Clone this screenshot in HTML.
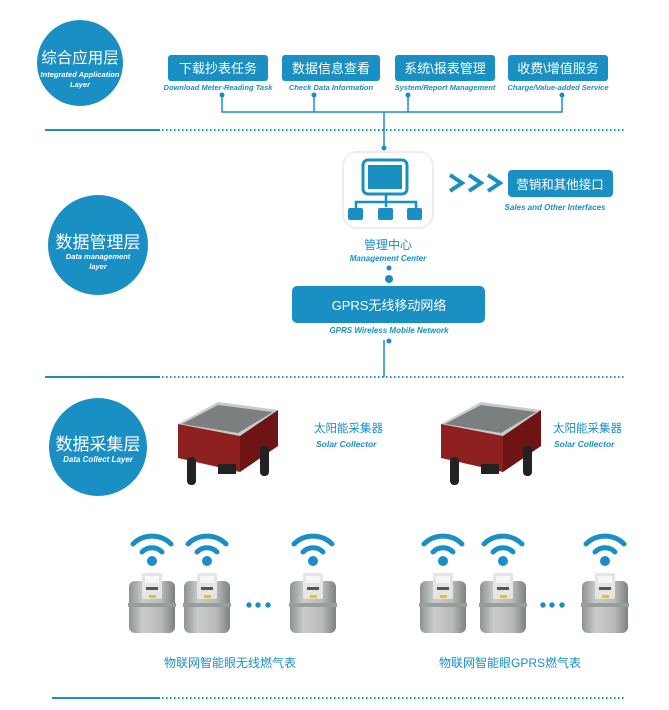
<!DOCTYPE html>
<html><head><meta charset="utf-8"><style>
html,body{margin:0;padding:0;background:#fff;}
svg{display:block;}
.cn{font-family:"Liberation Sans","Noto Sans CJK SC",sans-serif;}
.it{font-family:"Liberation Sans",sans-serif;font-style:italic;font-weight:bold;}
</style></head><body>
<svg width="669" height="710" viewBox="0 0 669 710" xmlns="http://www.w3.org/2000/svg">
<defs>
<linearGradient id="mg" x1="0" x2="1" y1="0" y2="0">
<stop offset="0" stop-color="#8e9390"/><stop offset="0.3" stop-color="#c9ccc9"/><stop offset="0.7" stop-color="#b8bbb8"/><stop offset="1" stop-color="#7d817f"/></linearGradient>
<g id="wifi">
<path d="M-19,-6 A27,27 0 0 1 19,-6" fill="none" stroke="#1a8fc4" stroke-width="5" stroke-linecap="round"/>
<path d="M-10,2 A14,14 0 0 1 10,2" fill="none" stroke="#1a8fc4" stroke-width="5" stroke-linecap="round"/>
<circle cx="0" cy="11" r="5" fill="#1a8fc4"/>
</g>
<g id="meter">
<rect x="-23" y="8" width="46" height="52" rx="6" fill="url(#mg)"/>
<rect x="-24" y="30" width="48" height="4" fill="#9a9e9b"/>
<rect x="-10" y="0" width="20" height="26" rx="2" fill="#e4e6e4"/>
<rect x="-7" y="3" width="14" height="7" fill="#f6f6f6"/>
<rect x="-6" y="14" width="12" height="3" fill="#555"/>
<rect x="-3" y="22" width="7" height="3" fill="#e8c020"/>
</g>
<g id="solar">
<polygon points="0,22 40,0 100,8 62,34" fill="#c9cbc9"/>
<polygon points="4,22 40,3 95,10 60,31" fill="#7b7f80"/>
<polygon points="0,22 62,34 62,70 0,56" fill="#8e2020"/>
<polygon points="62,34 100,8 100,44 62,70" fill="#6e1414"/>
<rect x="40" y="62" width="18" height="10" fill="#222"/>
<rect x="9" y="55" width="9" height="28" rx="4" fill="#222"/>
<rect x="82" y="44" width="9" height="30" rx="4" fill="#222"/>
</g>
</defs>

<g stroke="#1a8fc4">
<line x1="45" y1="130" x2="160" y2="130" stroke-width="2"/>
<line x1="162" y1="130" x2="626" y2="130" stroke-width="2" stroke-dasharray="1.5,2.5"/>
<line x1="45" y1="377" x2="160" y2="377" stroke-width="2"/>
<line x1="162" y1="377" x2="626" y2="377" stroke-width="2" stroke-dasharray="1.5,2.5"/>
<line x1="52" y1="698" x2="160" y2="698" stroke-width="2"/>
<line x1="162" y1="698" x2="626" y2="698" stroke-width="2" stroke-dasharray="1.5,2.5"/>
</g>

<circle cx="80" cy="63" r="43" fill="#1a8fc4"/>
<text x="80" y="63" class="cn" fill="#fff" font-size="15.5" text-anchor="middle">综合应用层</text>
<text x="80" y="77" class="it" fill="#fff" font-size="7.5" text-anchor="middle">Integrated Application</text>
<text x="80" y="87" class="it" fill="#fff" font-size="7.5" text-anchor="middle">Layer</text>

<circle cx="98" cy="245" r="50" fill="#1a8fc4"/>
<text x="98" y="248" class="cn" fill="#fff" font-size="17" text-anchor="middle">数据管理层</text>
<text x="98" y="259" class="it" fill="#fff" font-size="7.5" text-anchor="middle">Data management</text>
<text x="98" y="269" class="it" fill="#fff" font-size="7.5" text-anchor="middle">layer</text>

<circle cx="98" cy="447" r="49" fill="#1a8fc4"/>
<text x="98" y="450" class="cn" fill="#fff" font-size="17" text-anchor="middle">数据采集层</text>
<text x="98" y="462" class="it" fill="#fff" font-size="8" text-anchor="middle">Data Collect Layer</text>

<g fill="#1a8fc4">
<rect x="168" y="55" width="100" height="26" rx="3"/>
<rect x="282" y="55" width="98" height="26" rx="3"/>
<rect x="395" y="55" width="100" height="26" rx="3"/>
<rect x="508" y="55" width="100" height="26" rx="3"/>
</g>
<g class="cn" fill="#fff" font-size="13" text-anchor="middle">
<text x="218" y="73">下载抄表任务</text>
<text x="331" y="73">数据信息查看</text>
<text x="445" y="73">系统\报表管理</text>
<text x="558" y="73">收费\增值服务</text>
</g>
<g class="it" fill="#1a8fc4" font-size="7.5" text-anchor="middle">
<text x="218" y="90">Download Meter-Reading Task</text>
<text x="331" y="90">Check Data Information</text>
<text x="445" y="90">System/Report Management</text>
<text x="558" y="90">Charge/Value-added Service</text>
</g>
<g stroke="#1a8fc4" stroke-width="1.5" fill="none">
<path d="M222,95 V112 H562 V95 M314,95 V112 M408,95 V112"/>
<line x1="384" y1="112" x2="384" y2="148"/>
<line x1="384" y1="340" x2="384" y2="377"/>
</g>
<g fill="#1a8fc4">
<circle cx="222" cy="95" r="2.5"/><circle cx="314" cy="95" r="2.5"/><circle cx="408" cy="95" r="2.5"/><circle cx="562" cy="95" r="2.5"/>
<circle cx="384" cy="148" r="2.5"/>
<circle cx="389" cy="268" r="2.5"/><circle cx="389" cy="279" r="4"/>
<circle cx="389" cy="341" r="2.5"/>
</g>

<rect x="343" y="152" width="90" height="76" rx="14" fill="#fff" stroke="#eee" stroke-width="2"/>
<rect x="363" y="160" width="44" height="34" rx="5" fill="none" stroke="#1a8fc4" stroke-width="3"/>
<rect x="368" y="165" width="34" height="24" fill="#1a8fc4"/>
<g stroke="#1a8fc4" stroke-width="2.5" fill="none">
<path d="M386,195 V202 M376,202 H396 M386,202 V207 M356,208 V202 H416 V208"/>
</g>
<g fill="#1a8fc4">
<rect x="348" y="208" width="15" height="12" rx="2"/><rect x="378" y="208" width="15" height="12" rx="2"/><rect x="407" y="208" width="15" height="12" rx="2"/>
</g>
<text x="388" y="249" class="cn" fill="#1a8fc4" font-size="12" text-anchor="middle">管理中心</text>
<text x="388" y="261" class="it" fill="#1a8fc4" font-size="8" text-anchor="middle">Management Center</text>

<g stroke="#1a8fc4" stroke-width="4" fill="none">
<path d="M450,175 L462,183 L450,191"/><path d="M469,175 L481,183 L469,191"/><path d="M488,175 L500,183 L488,191"/>
</g>
<rect x="508" y="170" width="105" height="27" rx="4" fill="#1a8fc4"/>
<text x="560" y="189" class="cn" fill="#fff" font-size="12.5" text-anchor="middle">营销和其他接口</text>
<text x="555" y="210" class="it" fill="#1a8fc4" font-size="8" text-anchor="middle">Sales and Other Interfaces</text>

<rect x="292" y="286" width="193" height="37" rx="5" fill="#1a8fc4"/>
<text x="389" y="310" class="cn" fill="#fff" font-size="13" text-anchor="middle">GPRS无线移动网络</text>
<text x="389" y="333" class="it" fill="#1a8fc4" font-size="8" text-anchor="middle">GPRS Wireless Mobile Network</text>

<use href="#solar" x="178" y="402"/>
<use href="#solar" x="441" y="402"/>
<g class="cn" fill="#1a8fc4" font-size="11.5">
<text x="314" y="432">太阳能采集器</text><text x="553" y="432">太阳能采集器</text>
</g>
<g class="it" fill="#1a8fc4" font-size="8.5">
<text x="316" y="447">Solar Collector</text><text x="554" y="447">Solar Collector</text>
</g>

<use href="#wifi" x="152" y="550"/><use href="#wifi" x="207" y="550"/><use href="#wifi" x="313" y="550"/>
<use href="#wifi" x="443" y="550"/><use href="#wifi" x="503" y="550"/><use href="#wifi" x="605" y="550"/>
<use href="#meter" x="152" y="573"/><use href="#meter" x="207" y="573"/><use href="#meter" x="313" y="573"/>
<use href="#meter" x="443" y="573"/><use href="#meter" x="503" y="573"/><use href="#meter" x="605" y="573"/>
<g fill="#1a8fc4">
<circle cx="249" cy="605" r="2.7"/><circle cx="258" cy="605" r="2.7"/><circle cx="268" cy="605" r="2.7"/>
<circle cx="543" cy="605" r="2.7"/><circle cx="552" cy="605" r="2.7"/><circle cx="562" cy="605" r="2.7"/>
</g>
<g class="cn" fill="#1a8fc4" font-size="12" text-anchor="middle">
<text x="230" y="667">物联网智能眼无线燃气表</text>
<text x="510" y="667">物联网智能眼GPRS燃气表</text>
</g>
</svg>
</body></html>
